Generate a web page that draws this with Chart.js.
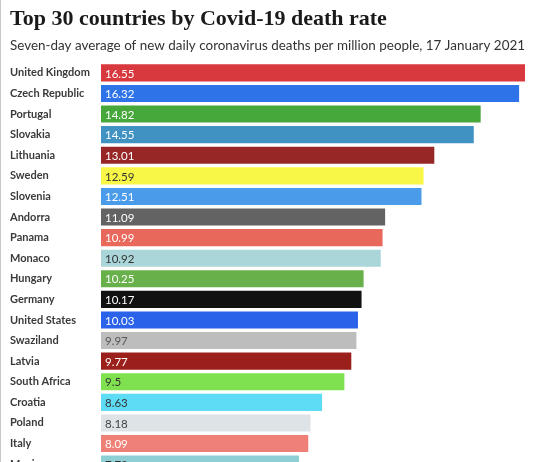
<!DOCTYPE html>
<html>
<head>
<meta charset="utf-8">
<script src="https://cdn.jsdelivr.net/npm/chart.js@4/dist/chart.umd.min.js"></script>
<style>
html, body { margin: 0; padding: 0; background: #fff; overflow: hidden; }
#wrap { width: 533px; height: 481px; position: relative; border-left: 1px solid #c8c8c8; }
</style>
</head>
<body>
<div id="wrap"><canvas id="myChart"></canvas></div>
<script>
// visible part of the ranking (the picture is cut off after Mexico)
const countries = ['United Kingdom', 'Czech Republic', 'Portugal', 'Slovakia', 'Lithuania', 'Sweden',
    'Slovenia', 'Andorra', 'Panama', 'Monaco', 'Hungary', 'Germany', 'United States', 'Swaziland',
    'Latvia', 'South Africa', 'Croatia', 'Poland', 'Italy', 'Mexico']
const deaths = [16.55, 16.32, 14.82, 14.55, 13.01, 12.59, 12.51, 11.09, 10.99, 10.92, 10.25, 10.17,
    10.03, 9.97, 9.77, 9.5, 8.63, 8.18, 8.09, 7.73]
const barColours = ['#d8393e', '#2e74e8', '#46a83a', '#3f92c2', '#972727', '#f8f646', '#4a9cea',
    '#636363', '#e9685c', '#aad6d9', '#68b04a', '#111111', '#2a63ea', '#bdbdbd', '#9b201c',
    '#7fe14f', '#5edcf6', '#dde3e6', '#ef8078', '#8dcfd3']
const valueColours = ['#fff', '#fff', '#fff', '#fff', '#fff', '#333', '#fff', '#fff', '#fff', '#333',
    '#fff', '#fff', '#fff', '#555', '#fff', '#333', '#333', '#444', '#fff', '#333']

const valueLabels = {
    id: 'valueLabels',
    afterDatasetsDraw(chart) {
        const ctx = chart.ctx
        const meta = chart.getDatasetMeta(0)
        ctx.save()
        ctx.font = '11.5px Lato'
        ctx.textBaseline = 'middle'
        meta.data.forEach((bar, i) => {
            ctx.fillStyle = valueColours[i]
            ctx.fillText(String(deaths[i]), bar.base + 4, bar.y + 1)
        })
        ctx.restore()
    },
}

new Chart(document.getElementById('myChart'), {
    type: 'bar',
    data: {
        labels: countries,
        datasets: [
            {
                data: deaths,
                backgroundColor: barColours,
                barPercentage: 0.83,
                categoryPercentage: 1,
            },
        ],
    },
    options: {
        indexAxis: 'y',
        responsive: true,
        maintainAspectRatio: false,
        animation: false,
        layout: { padding: { left: 9, right: 9, top: 0, bottom: 2 } },
        scales: {
            x: {
                display: false,
                min: 0,
                max: 16.55,
            },
            y: {
                grid: { display: false },
                border: { display: false },
                afterFit: (scale) => { scale.width = 91 },
                ticks: {
                    crossAlign: 'far',
                    padding: 0,
                    color: '#3a3a3a',
                    font: { family: 'Lato', size: 11, weight: 'bold' },
                },
            },
        },
        plugins: {
            legend: { display: false },
            tooltip: { enabled: false },
            title: {
                display: true,
                align: 'start',
                text: 'Top 30 countries by Covid-19 death rate',
                color: '#1a1a1a',
                font: { family: 'Liberation Serif', size: 22, weight: 'bold', lineHeight: 1.2 },
                padding: { top: 6, bottom: 4 },
            },
            subtitle: {
                display: true,
                align: 'start',
                text: 'Seven-day average of new daily coronavirus deaths per million people, 17 January 2021',
                color: '#333',
                font: { family: 'Lato', size: 13.5, lineHeight: 1.2 },
                padding: { top: 1, bottom: 9 },
            },
        },
    },
    plugins: [valueLabels],
})
</script>
</body>
</html>
